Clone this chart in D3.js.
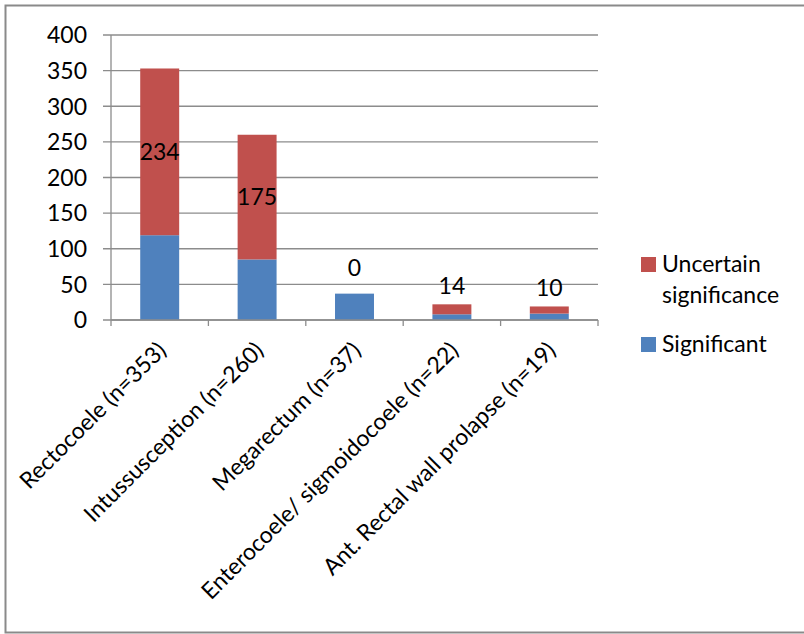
<!DOCTYPE html>
<html><head><meta charset="utf-8">
<script src="https://cdn.jsdelivr.net/npm/d3@7"></script>
<style>body{margin:0;background:#fff}svg{display:block}text{font-family:Lato,"Open Sans",sans-serif}</style>
</head><body>
<svg id="c" width="804" height="634"></svg>
<script>
const categories = ["Rectocoele (n=353)","Intussusception (n=260)","Megarectum (n=37)","Enterocoele/ sigmoidocoele (n=22)","Ant. Rectal wall prolapse (n=19)"];
const significant = [119, 85, 37, 8, 9];
const uncertain = [234, 175, 0, 14, 10];
const yTicks = [0,50,100,150,200,250,300,350,400];
const seriesNames = ["Uncertain significance","Significant"];
const colors = {sig:"#4F81BD", unc:"#C0504D"};

const svg = d3.select("#c");
svg.append("rect").attr("x",5.5).attr("y",5.5).attr("width",830).attr("height",627)
  .attr("fill","#fff").attr("stroke","#8a8a8a").attr("stroke-width",2);

const L=111, R=598, T=35, B=320;
const x = d3.scaleBand().domain(categories).range([L,R]).paddingInner(0.6).paddingOuter(0.3);
const xb = d3.scaleBand().domain(categories).range([L,R]);
const y = d3.scaleLinear().domain([0,400]).range([B,T]);
const fs = 23;

// gridlines
svg.append("g").selectAll("line").data(yTicks).join("line")
  .attr("x1",L-8).attr("x2",R).attr("y1",d=>y(d)).attr("y2",d=>y(d))
  .attr("stroke","#8c8c8c").attr("stroke-width",1.3);
// y axis
svg.append("line").attr("x1",L).attr("x2",L).attr("y1",T).attr("y2",B).attr("stroke","#8c8c8c").attr("stroke-width",1.3);
svg.append("g").selectAll("text").data(yTicks).join("text")
  .attr("x",L-24).attr("y",d=>y(d)).attr("dy","0.36em").attr("text-anchor","end")
  .attr("font-size",fs).attr("fill","#000").text(d=>d);

// x ticks
const bounds = categories.map(c=>xb(c)).concat([R]);
svg.append("g").selectAll("line").data(bounds).join("line")
  .attr("x1",d=>d).attr("x2",d=>d).attr("y1",B).attr("y2",B+6)
  .attr("stroke","#8c8c8c").attr("stroke-width",1.3);

// bars
const data = categories.map((c,i)=>({c, s:significant[i], u:uncertain[i]}));
const g = svg.append("g");
g.selectAll("rect.s").data(data).join("rect").attr("class","s")
  .attr("x",d=>x(d.c)).attr("width",x.bandwidth())
  .attr("y",d=>y(d.s)).attr("height",d=>y(0)-y(d.s)).attr("fill",colors.sig);
g.selectAll("rect.u").data(data).join("rect").attr("class","u")
  .attr("x",d=>x(d.c)).attr("width",x.bandwidth())
  .attr("y",d=>y(d.s+d.u)).attr("height",d=>y(d.s)-y(d.s+d.u)).attr("fill",colors.unc);
svg.append("line").attr("x1",L).attr("x2",R).attr("y1",B).attr("y2",B).attr("stroke","#8c8c8c").attr("stroke-width",1.3);

// data labels for uncertain series
svg.append("g").selectAll("text").data(data).join("text")
  .attr("x",d=>x(d.c)+x.bandwidth()/2)
  .attr("y",d=>{
    const h = y(d.s)-y(d.s+d.u);
    if (h > 30) return (y(d.s)+y(d.s+d.u))/2;
    return y(d.s+d.u) - (d.u===0 ? 26 : 19);
  })
  .attr("dy","0.36em").attr("text-anchor","middle").attr("font-size",fs).attr("fill","#000")
  .text(d=>d.u);

// category labels
svg.append("g").selectAll("text").data(categories).join("text")
  .attr("transform",c=>`translate(${xb(c)+xb.bandwidth()/2+2},${B+26}) rotate(-45)`)
  .attr("text-anchor","end").attr("dy","0.36em").attr("font-size",fs).attr("fill","#000")
  .text(c=>c);

// legend
const lg = svg.append("g");
lg.append("rect").attr("x",641).attr("y",257).attr("width",15).attr("height",15).attr("fill",colors.unc);
lg.append("text").attr("x",662).attr("y",272).attr("font-size",fs).text("Uncertain");
lg.append("text").attr("x",662).attr("y",303).attr("font-size",fs).text("significance");
lg.append("rect").attr("x",641).attr("y",337).attr("width",15).attr("height",15).attr("fill",colors.sig);
lg.append("text").attr("x",662).attr("y",352).attr("font-size",fs).text(seriesNames[1]);
</script>
</body></html>
